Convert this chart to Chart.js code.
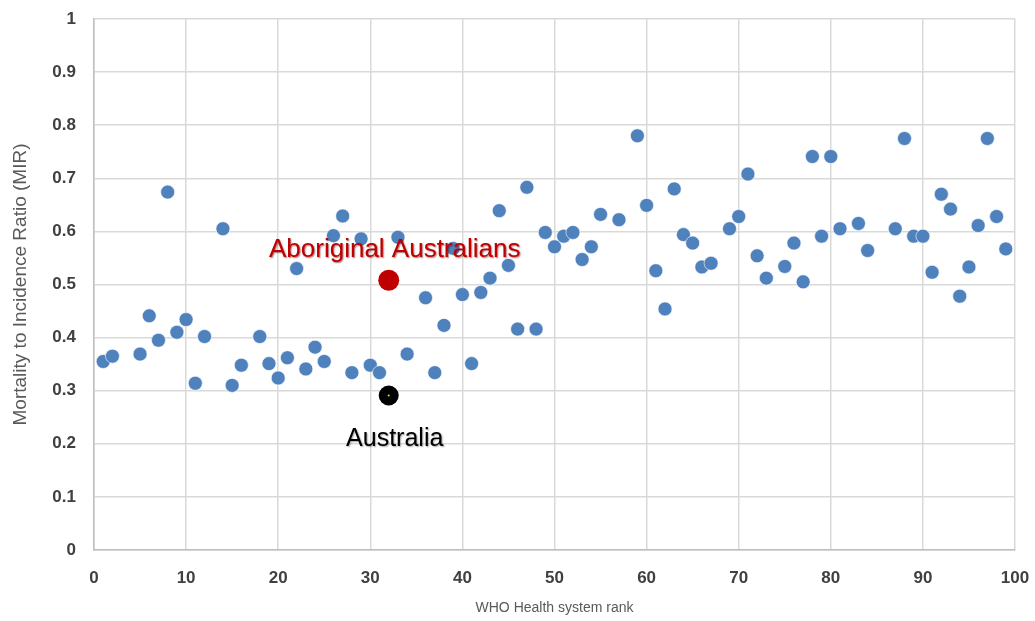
<!DOCTYPE html>
<html>
<head>
<meta charset="utf-8">
<script src="https://cdn.jsdelivr.net/npm/chart.js@4/dist/chart.umd.min.js"></script>
<style>
html,body{margin:0;padding:0;background:#fff;}
#wrap{width:1035px;height:621px;}
</style>
</head>
<body>
<div id="wrap"><canvas id="c" width="1035" height="621"></canvas></div>
<script>
// WHO health system rank (x) and mortality-to-incidence ratio (y)
const ranks = [1,2,5,6,7,8,9,10,11,12,14,15,16,18,19,20,21,22,23,24,25,26,27,28,29,30,31,33,34,36,37,38,39,40,41,42,43,44,45,46,47,48,49,50,51,52,53,54,55,57,59,60,61,62,63,64,65,66,67,69,70,71,72,73,75,76,77,78,79,80,81,83,84,87,88,89,90,91,92,93,94,95,96,97,98,99];
const mir = [0.355,0.365,0.369,0.441,0.395,0.674,0.410,0.434,0.314,0.402,0.605,0.310,0.348,0.402,0.351,0.324,0.362,0.530,0.341,0.382,0.355,0.592,0.629,0.334,0.586,0.348,0.334,0.589,0.369,0.475,0.334,0.423,0.568,0.481,0.351,0.485,0.512,0.639,0.536,0.416,0.683,0.416,0.598,0.571,0.591,0.598,0.547,0.571,0.632,0.622,0.780,0.649,0.526,0.454,0.680,0.594,0.578,0.533,0.540,0.605,0.628,0.708,0.554,0.512,0.534,0.578,0.505,0.741,0.591,0.741,0.605,0.615,0.564,0.605,0.775,0.591,0.591,0.523,0.670,0.642,0.478,0.533,0.611,0.775,0.628,0.567];

const highlightNames = ["Aboriginal Australians", "Australia"];
const highlightRank = [32, 32];
const highlightMir = [0.508, 0.291];

const xTicks = [0,10,20,30,40,50,60,70,80,90,100];
const yTicks = [0,0.1,0.2,0.3,0.4,0.5,0.6,0.7,0.8,0.9,1];

const xTitle = "WHO Health system rank";
const yTitle = "Mortality to Incidence Ratio (MIR)";

const countries = ranks.map((r, i) => ({x: r, y: mir[i]}));

const labelPlugin = {
  id: 'pointLabels',
  afterDatasetsDraw(chart) {
    const ctx = chart.ctx;
    const xs = chart.scales.x, ys = chart.scales.y;
    ctx.save();
    ctx.textAlign = 'center';
    ctx.textBaseline = 'alphabetic';
    // Aboriginal Australians
    let px = xs.getPixelForValue(highlightRank[0]);
    let py = ys.getPixelForValue(highlightMir[0]);
    ctx.font = '26px "Liberation Sans", Arial, sans-serif';
    ctx.shadowColor = 'rgba(90,0,0,0.55)';
    ctx.shadowOffsetX = 1; ctx.shadowOffsetY = 1; ctx.shadowBlur = 1.5;
    ctx.fillStyle = '#C00000';
    ctx.fillText(highlightNames[0], px + 6, py - 23);
    // Australia
    px = xs.getPixelForValue(highlightRank[1]);
    py = ys.getPixelForValue(highlightMir[1]);
    ctx.shadowColor = 'rgba(0,0,0,0.35)';
    ctx.font = '25px "Liberation Sans", Arial, sans-serif';
    ctx.fillStyle = '#000000';
    ctx.fillText(highlightNames[1], px + 6, py + 51);
    ctx.restore();
  }
};

function zeroPad(s) { s.paddingTop = 0; s.paddingBottom = 0; s.paddingLeft = 0; s.paddingRight = 0; }

new Chart(document.getElementById('c'), {
  type: 'scatter',
  data: {
    datasets: [
      {
        label: 'Countries',
        data: countries,
        backgroundColor: '#4F81BD',
        borderColor: '#ffffff',
        borderWidth: 0.6,
        pointRadius: 7,
        pointHoverRadius: 7,
        order: 3
      },
      {
        label: highlightNames[0],
        data: [{x: highlightRank[0], y: highlightMir[0]}],
        backgroundColor: '#C00000',
        borderColor: '#C00000',
        borderWidth: 0,
        pointRadius: 10.5,
        order: 2
      },
      {
        label: highlightNames[1],
        data: [{x: highlightRank[1], y: highlightMir[1]}],
        backgroundColor: '#000000',
        borderColor: '#000000',
        borderWidth: 0,
        pointRadius: 10,
        order: 1
      },
      {
        label: 'centre',
        data: [{x: highlightRank[1], y: highlightMir[1]}],
        backgroundColor: '#E8E800',
        borderWidth: 0,
        pointRadius: 1,
        order: 0
      }
    ]
  },
  options: {
    responsive: false,
    animation: false,
    devicePixelRatio: 1,
    layout: { padding: { left: 0, right: 20, top: 19, bottom: 0 } },
    plugins: {
      legend: { display: false },
      tooltip: { enabled: false }
    },
    scales: {
      x: {
        type: 'linear',
        min: 0, max: 100,
        afterBuildTicks: (s) => { s.ticks = xTicks.map(v => ({value: v})); },
        afterFit: (s) => { s.height = 71; zeroPad(s); },
        grid: { color: '#D9D9D9', lineWidth: 1.5, drawTicks: false },
        border: { color: '#BFBFBF', width: 1.5 },
        ticks: {
          padding: 18,
          color: '#404040',
          font: { family: '"Liberation Sans", Arial, sans-serif', size: 17, weight: 'bold' },
          maxRotation: 0
        },
        title: {
          display: true,
          text: xTitle,
          color: '#595959',
          font: { family: '"Liberation Sans", Arial, sans-serif', size: 14 },
          padding: { top: 10, bottom: 4 }
        }
      },
      y: {
        type: 'linear',
        min: 0, max: 1,
        afterBuildTicks: (s) => { s.ticks = yTicks.map(v => ({value: v})); },
        afterFit: (s) => { s.width = 94; zeroPad(s); },
        grid: { color: '#D9D9D9', lineWidth: 1.5, drawTicks: false },
        border: { color: '#BFBFBF', width: 1.5 },
        ticks: {
          padding: 18,
          color: '#404040',
          callback: (v) => String(+Number(v).toFixed(1)),
          font: { family: '"Liberation Sans", Arial, sans-serif', size: 17, weight: 'bold' }
        },
        title: {
          display: true,
          text: yTitle,
          color: '#595959',
          font: { family: '"Liberation Sans", Arial, sans-serif', size: 19 },
          padding: { top: 9, bottom: 0 }
        }
      }
    }
  },
  plugins: [labelPlugin]
});
</script>
</body>
</html>
